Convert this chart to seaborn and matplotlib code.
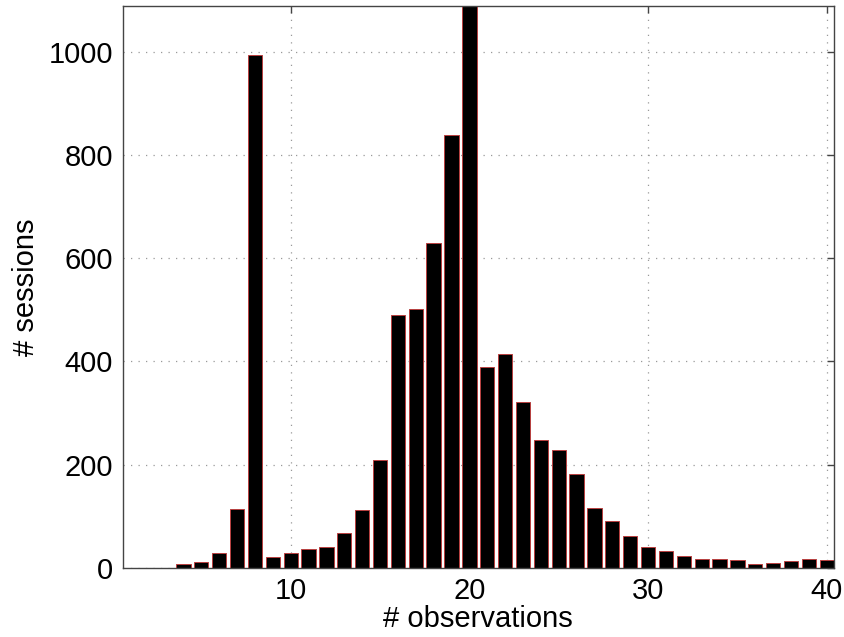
import matplotlib
matplotlib.use("Agg")
import pandas as pd
import seaborn as sns
import matplotlib.pyplot as plt

sns.set_theme(style="white")
plt.rcParams['font.family'] = ['Liberation Sans', 'DejaVu Sans']
plt.rcParams['text.color'] = 'black'
plt.rcParams['axes.labelcolor'] = 'black'
plt.rcParams['xtick.color'] = 'black'
plt.rcParams['ytick.color'] = 'black'

# number of observations per session (x) and how many sessions have it (y)
observations = list(range(4, 41))
sessions = [7, 10, 28, 113, 995, 20, 28, 36, 40, 67, 111, 208, 491, 501, 630, 840,
            1100, 389, 414, 321, 247, 228, 181, 115, 91, 62, 40, 32, 22, 16, 17,
            14, 6, 8, 12, 17, 14]
x_ticks = [10, 20, 30, 40]
y_ticks = [0, 200, 400, 600, 800, 1000]

df = pd.DataFrame({"observations": observations, "sessions": sessions})

fig = plt.figure(figsize=(8.44, 6.37), dpi=100)
ax = fig.add_axes([0.1454, 0.109, 0.8426, 0.8816])

sns.barplot(data=df, x="observations", y="sessions", native_scale=True,
            color="black", saturation=1, width=0.8,
            edgecolor="#b84040", linewidth=0.7, ax=ax)

ax.set_xlim(0.6, 40.4)
ax.set_ylim(0, 1090)
ax.set_xticks(x_ticks)
ax.set_yticks(y_ticks)
ax.set_axisbelow(True)
ax.grid(True, linestyle=(0, (1, 5)), color="#999999", linewidth=0.9)
ax.tick_params(direction="in", top=True, right=True, length=5, width=1,
               color="#444444", labelsize=21, pad=7)
for s in ax.spines.values():
    s.set_color("#444444")
    s.set_linewidth(1.0)

ax.set_xlabel("# observations", fontsize=21, labelpad=0)
ax.set_ylabel("# sessions", fontsize=21, labelpad=6)

fig.savefig("out.png", dpi=100)
